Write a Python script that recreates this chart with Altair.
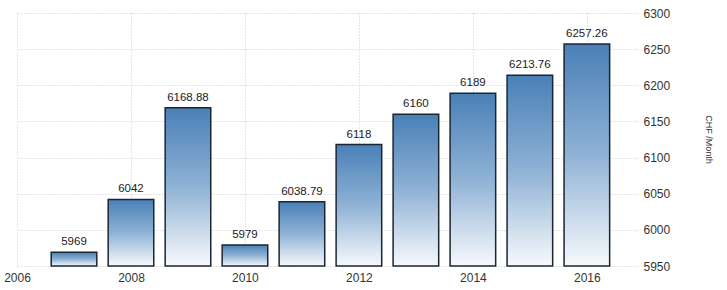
import altair as alt
import pandas as pd

years = [2007, 2008, 2009, 2010, 2011, 2012, 2013, 2014, 2015, 2016]
values = [5969, 6042, 6168.88, 5979, 6038.79, 6118, 6160, 6189, 6213.76, 6257.26]
labels = ["5969", "6042", "6168.88", "5979", "6038.79", "6118", "6160", "6189", "6213.76", "6257.26"]
x_ticks = [2006, 2008, 2010, 2012, 2014, 2016]
y_ticks = [5950, 6000, 6050, 6100, 6150, 6200, 6250, 6300]

df = pd.DataFrame({"year": years, "value": values, "label": labels})

xscale = alt.Scale(domain=[2006, 2016.88], nice=False, zero=False)
yscale = alt.Scale(domain=[5950, 6300], nice=False, zero=False)

xaxis = alt.Axis(values=x_ticks, format="d", title=None, ticks=False, domain=False,
                 labelFont="Liberation Sans", labelFontSize=12, labelColor="#333333",
                 labelPadding=6, grid=True, gridColor="#c8c8c8", gridDash=[1, 2],
                 labelFlush=False, labelOverlap=False)
yaxis = alt.Axis(values=y_ticks, format="d", orient="right", title="CHF /Month", ticks=False,
                 domain=False, labelOverlap=False,
                 labelFont="Liberation Sans", labelFontSize=12, labelColor="#333333",
                 labelPadding=6, grid=True, gridColor="#c8c8c8", gridDash=[1, 2],
                 titleAngle=90, titleX=71, titleY=126, titleAlign="center",
                 titleBaseline="middle", titleFont="Liberation Sans", titleFontSize=9,
                 titleFontWeight="normal", titleColor="#333333")

gradient = alt.Gradient(
    gradient="linear",
    stops=[alt.GradientStop(color="#4a80b7", offset=0),
           alt.GradientStop(color="#8fb2d5", offset=0.5),
           alt.GradientStop(color="#f7f9fc", offset=1)],
    x1=0, x2=0, y1=0, y2=1,
)

base = alt.Chart(df).transform_calculate(
    x0="datum.year - 0.4", x1="datum.year + 0.4"
)

bars = base.mark_bar(fill=gradient, stroke="#1b2633", strokeWidth=1.5).encode(
    x=alt.X("x0:Q", scale=xscale, axis=xaxis),
    x2="x1:Q",
    y=alt.Y("value:Q", scale=yscale, axis=yaxis),
    y2=alt.datum(5950),
)

text = base.mark_text(baseline="bottom", dy=-5, font="Liberation Sans", fontSize=11.5,
                      color="#1a1a1a").encode(
    x=alt.X("year:Q", scale=xscale, axis=xaxis),
    y=alt.Y("value:Q", scale=yscale, axis=yaxis),
    text="label:N",
)

chart = (bars + text).properties(
    width=620, height=253,
    autosize=alt.AutoSizeParams(type="none"),
    padding={"left": 17, "top": 13, "right": 90, "bottom": 24},
    background="white",
).configure_view(stroke=None)

chart.save("out.html", embed_options={"renderer": "svg", "actions": False})
